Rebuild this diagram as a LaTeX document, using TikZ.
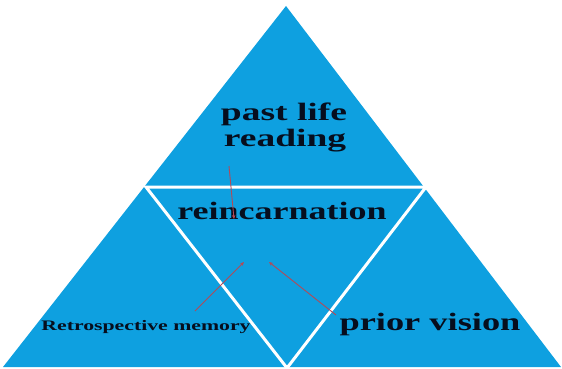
\documentclass[tikz,border=0pt]{standalone}
\usepackage{fontspec}
\setmainfont{Liberation Serif}
\usetikzlibrary{arrows.meta}
\definecolor{triblue}{RGB}{14,160,224}
\definecolor{txtdark}{RGB}{6,14,30}
\definecolor{arrred}{RGB}{178,74,88}
\tikzset{
  lbl/.style={inner sep=0pt, anchor=base, text=txtdark, transform shape},
  big/.style={lbl, xscale=1.5, font=\bfseries\fontsize{25}{26}\selectfont},
  small/.style={lbl, xscale=1.5, font=\bfseries\fontsize{14.5}{16}\selectfont},
  ptr/.style={draw=arrred, line width=0.9pt, -{Stealth[length=4pt,width=3.5pt]}}
}
\begin{document}
\begin{tikzpicture}[x=1pt,y=-1pt]
\useasboundingbox (0,0) rectangle (562,369);
\coordinate (A) at (286,6);
\coordinate (B) at (3,367);
\coordinate (C) at (561,367);
\fill[triblue] (A) -- (B) -- (C) -- cycle;
\coordinate (mAB) at (146,187);
\coordinate (mAC) at (426,187);
\coordinate (mBC) at (287,368);
\draw[white, line width=3pt, line join=miter] (mAB) -- (mAC) -- (mBC) -- cycle;
\node[big] (past) at (284,120) {past life};
\node[big] (reading) at (285,146) {reading};
\node[big, xscale=0.96] (reinc) at (282,219) {reincarnation};
\node[small] (retro) at (146,330) {Retrospective memory};
\node[big, xscale=0.97] (prior) at (430,330) {prior vision};
\coordinate (s1) at (229,166);
\coordinate (e1) at (234,219);
\coordinate (s2) at (195,311);
\coordinate (e2) at (244,262);
\coordinate (s3) at (336,315);
\coordinate (e3) at (269,262);
\draw[ptr] (s1) -- (e1);
\draw[ptr] (s2) -- (e2);
\draw[ptr] (s3) -- (e3);
\end{tikzpicture}
\end{document}
